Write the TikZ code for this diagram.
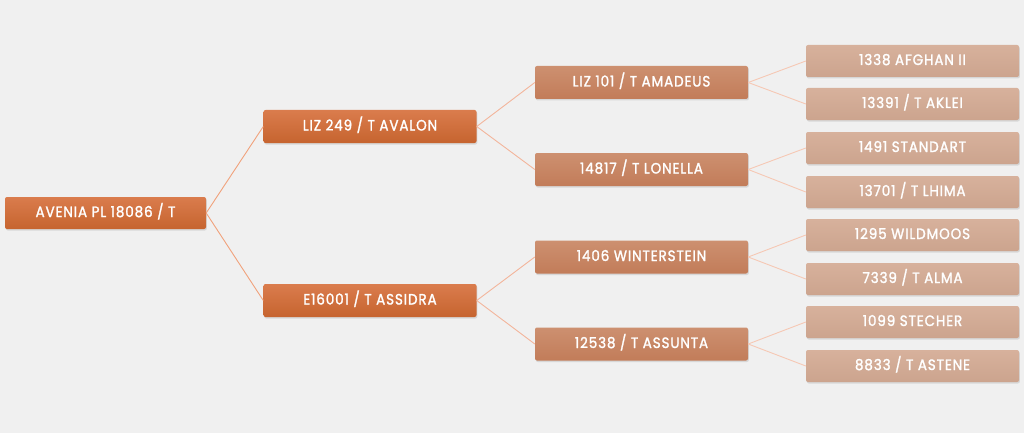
\documentclass[tikz,border=0pt]{standalone}
\usepackage{fontspec}
\setmainfont{Poppins}[FakeStretch=0.9, FakeBold=1.6, LetterSpace=6]
\usetikzlibrary{shadows}
\definecolor{bgc}{HTML}{F0F0F0}
\definecolor{oA}{HTML}{DA7C4D}
\definecolor{oB}{HTML}{C6642F}
\definecolor{mA}{HTML}{CD9070}
\definecolor{mB}{HTML}{C27C59}
\definecolor{lA}{HTML}{D7B19C}
\definecolor{lB}{HTML}{CCA48E}
\definecolor{lnA}{HTML}{F0A27C}
\definecolor{lnB}{HTML}{F3B59B}
\definecolor{lnC}{HTML}{F6C8B4}
\tikzset{
  box/.style={rounded corners=2pt, minimum height=32pt, minimum width=213pt, inner sep=0pt,
    text=white, font=\fontsize{15}{15}\selectfont, text height=11pt, text depth=3pt,
    drop shadow={opacity=0.22, shadow xshift=0.8pt, shadow yshift=-1.5pt}},
  g0/.style={box, minimum width=201pt, top color=oA, bottom color=oB},
  g1/.style={box, minimum height=33pt, top color=oA, bottom color=oB},
  g2/.style={box, minimum height=33pt, top color=mA, bottom color=mB},
  g3/.style={box, top color=lA, bottom color=lB},
  c1/.style={draw=lnA, line width=0.9pt},
  c2/.style={draw=lnB, line width=0.9pt},
  c3/.style={draw=lnC, line width=0.9pt}
}
\begin{document}
\begin{tikzpicture}[x=1pt,y=-1pt]
\fill[bgc] (0,0) rectangle (1024,433);
\useasboundingbox (0,0) rectangle (1024,433);
\node[g0] (r) at (105.5,213) {AVENIA PL 18086 / T};
\node[g1] (a) at (370,126.5) {LIZ 249 / T AVALON};
\node[g1] (b) at (370,300.5) {E16001 / T ASSIDRA};
\node[g2] (aa) at (641.5,82.5) {LIZ 101 / T AMADEUS};
\node[g2] (ab) at (641.5,169.5) {14817 / T LONELLA};
\node[g2] (ba) at (641.5,257) {1406 WINTERSTEIN};
\node[g2] (bb) at (641.5,344) {12538 / T ASSUNTA};
\node[g3] (aaa) at (912.5,61) {1338 AFGHAN II};
\node[g3] (aab) at (912.5,104) {13391 / T AKLEI};
\node[g3] (aba) at (912.5,148) {1491 STANDART};
\node[g3] (abb) at (912.5,192) {13701 / T LHIMA};
\node[g3] (baa) at (912.5,235) {1295 WILDMOOS};
\node[g3] (bab) at (912.5,279) {7339 / T ALMA};
\node[g3] (bba) at (912.5,322) {1099 STECHER};
\node[g3] (bbb) at (912.5,366) {8833 / T ASTENE};
\foreach \c in {a,b} \draw[c1] (r.east) -- (\c.west);
\foreach \p in {a,b} \foreach \c in {a,b} \draw[c2] (\p.east) -- (\p\c.west);
\foreach \p in {aa,ab,ba,bb} \foreach \c in {a,b} \draw[c3] (\p.east) -- (\p\c.west);
\end{tikzpicture}
\end{document}
